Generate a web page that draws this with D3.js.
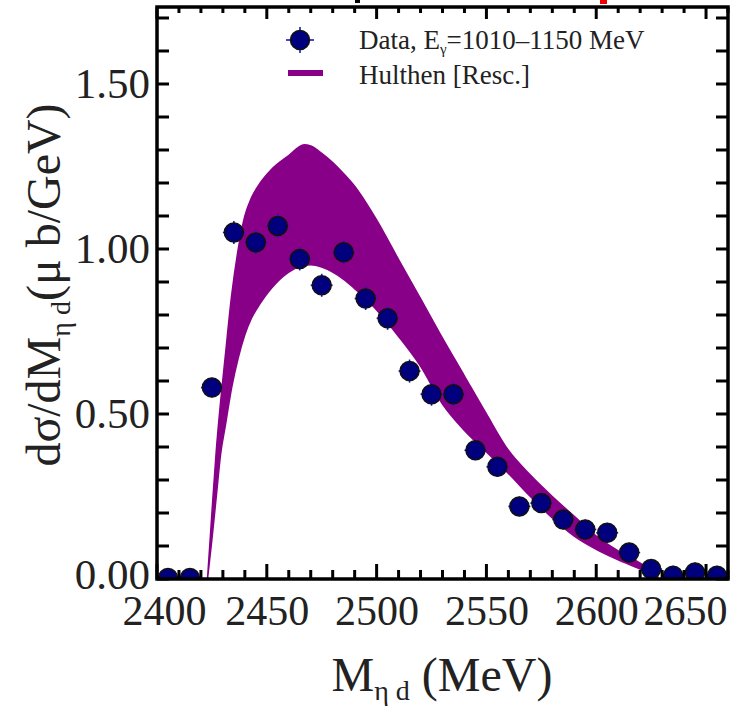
<!DOCTYPE html>
<html><head><meta charset="utf-8">
<script src="https://cdn.jsdelivr.net/npm/d3@7"></script>
<style>body{margin:0;background:#fff}svg{display:block}text{font-family:"Liberation Serif","Times New Roman",serif}</style>
</head><body>
<svg id="c" width="737" height="708"></svg>
<script>
const dataX = [2405,2415,2425,2435,2445,2455,2465,2475,2485,2495,2505,2515,2525,2535,2545,2555,2565,2575,2585,2595,2605,2615,2625,2635,2645,2655];
const dataY = [0.003,0.003,0.58,1.05,1.02,1.07,0.97,0.89,0.99,0.85,0.79,0.63,0.56,0.56,0.39,0.34,0.22,0.23,0.18,0.15,0.14,0.08,0.03,0.01,0.02,0.01];
const dataErr = [0.03,0.03,0.03,0.035,0.035,0.035,0.035,0.035,0.035,0.035,0.035,0.035,0.035,0.035,0.03,0.03,0.03,0.03,0.03,0.03,0.03,0.03,0.03,0.03,0.03,0.03];
const binHalf = 5;
const bandX = [2423,2425,2427,2429,2431,2434,2437,2440,2443,2447,2452,2460,2467,2470,2475,2480,2485,2490,2495,2500,2510,2520,2530,2540,2550,2560,2570,2580,2590,2600,2610,2620,2628];
const bandLow = [0,0.12,0.25,0.38,0.46,0.58,0.67,0.74,0.79,0.835,0.88,0.93,0.95,0.952,0.945,0.93,0.908,0.88,0.85,0.815,0.735,0.645,0.53,0.45,0.385,0.32,0.25,0.185,0.13,0.09,0.058,0.03,0.004];
const bandHigh = [0,0.2,0.39,0.54,0.67,0.86,1.0,1.1,1.155,1.2,1.24,1.283,1.316,1.312,1.29,1.262,1.228,1.19,1.142,1.088,0.968,0.85,0.73,0.615,0.5,0.39,0.315,0.25,0.19,0.13,0.085,0.048,0.012];
const xTicks = [2400,2450,2500,2550,2600,2650];
const yTicks = [0,0.5,1.0,1.5];

const L=157,R=728,T=7,B=579;
const FONT="Liberation Serif";
const svg=d3.select("#c");
const x=d3.scaleLinear().domain([2400,2660]).range([L,R]);
const y=d3.scaleLinear().domain([0,1.7333]).range([B,T]);

svg.append("defs").append("clipPath").attr("id","clip").append("rect")
  .attr("x",L).attr("y",T).attr("width",R-L).attr("height",B-T);
const plot=svg.append("g").attr("clip-path","url(#clip)");

const band=bandX.map((v,i)=>({x:v,lo:bandLow[i],hi:bandHigh[i]}));
plot.append("path").datum(band)
  .attr("d",d3.area().x(d=>x(d.x)).y0(d=>y(d.lo)).y1(d=>y(d.hi)).curve(d3.curveMonotoneX))
  .attr("fill","#880088").attr("stroke","#880088").attr("stroke-width",1.5);

const pts=dataX.map((v,i)=>({x:v,y:dataY[i],e:dataErr[i]}));
const pg=plot.selectAll("g.pt").data(pts).join("g").attr("class","pt");
pg.append("line").attr("x1",d=>x(d.x-binHalf)).attr("x2",d=>x(d.x+binHalf)).attr("y1",d=>y(d.y)).attr("y2",d=>y(d.y))
  .attr("stroke","#1a1ac8").attr("stroke-width",1.6);
pg.append("line").attr("x1",d=>x(d.x)).attr("x2",d=>x(d.x)).attr("y1",d=>y(d.y-d.e)).attr("y2",d=>y(d.y+d.e))
  .attr("stroke","#1a1ac8").attr("stroke-width",1.6);
pg.append("circle").attr("cx",d=>x(d.x)).attr("cy",d=>y(d.y)).attr("r",9.5)
  .attr("fill","#00007f").attr("stroke","#111").attr("stroke-width",1.5);

// ticks inside on all four sides
const minorX=d3.range(2400,2661,10);
const minorY=d3.range(0,1.71,0.1);
const ax=svg.append("g").attr("stroke","#000");
minorX.forEach(v=>{
  const major = v%50===0;
  ax.append("line").attr("x1",x(v)).attr("x2",x(v)).attr("y1",B).attr("y2",B-(major?15:9)).attr("stroke-width",3);
  ax.append("line").attr("x1",x(v)).attr("x2",x(v)).attr("y1",T).attr("y2",T+(major?12:6)).attr("stroke-width",3);
});
minorY.forEach(v=>{
  ax.append("line").attr("x1",L).attr("x2",L+12).attr("y1",y(v)).attr("y2",y(v)).attr("stroke-width",3);
  ax.append("line").attr("x1",R).attr("x2",R-12).attr("y1",y(v)).attr("y2",y(v)).attr("stroke-width",3);
});
svg.append("rect").attr("x",L).attr("y",T).attr("width",R-L).attr("height",B-T)
  .attr("fill","none").attr("stroke","#000").attr("stroke-width",3.5);

// tick labels via d3 axes
const xa=svg.append("g").attr("transform",`translate(0,${B})`)
  .call(d3.axisBottom(x).tickValues(xTicks).tickSize(0).tickPadding(16).tickFormat(d3.format("d")));
xa.select(".domain").remove();
xa.selectAll("text").attr("font-size",42).attr("fill","#222").attr("font-family",FONT)
  .attr("dy","0.72em")
  .attr("dx",d=>d===2650?-21:(d===2400?7:0));
const ya=svg.append("g").attr("transform",`translate(${L},0)`)
  .call(d3.axisLeft(y).tickValues(yTicks).tickSize(0).tickPadding(7).tickFormat(d3.format(".2f")));
ya.select(".domain").remove();
ya.selectAll("text").attr("font-size",43).attr("fill","#222").attr("font-family",FONT)
  .attr("dy",d=>d===0?"0.22em":"0.32em");

// axis titles
const xt=svg.append("text").attr("x",442).attr("y",691).attr("text-anchor","middle").attr("font-size",48).attr("fill","#222").attr("font-family",FONT);
xt.append("tspan").text("M");
xt.append("tspan").text("η d").attr("font-size",28).attr("dy",9);
xt.append("tspan").text(" (MeV)").attr("dy",-9);

const yt=svg.append("text").attr("transform","translate(60,285) rotate(-90)").attr("text-anchor","middle").attr("font-size",48).attr("fill","#222").attr("font-family",FONT);
yt.append("tspan").text("dσ/dM");
yt.append("tspan").text("η d").attr("font-size",28).attr("dy",10);
yt.append("tspan").text("(μ b/GeV)").attr("dy",-10);

// legend
const lg=svg.append("g");
lg.append("line").attr("x1",286).attr("x2",314).attr("y1",40).attr("y2",40).attr("stroke","#1a1ac8").attr("stroke-width",1.6);
lg.append("line").attr("x1",300).attr("x2",300).attr("y1",27).attr("y2",53).attr("stroke","#1a1ac8").attr("stroke-width",1.6);
lg.append("circle").attr("cx",300).attr("cy",40).attr("r",9.5).attr("fill","#00007f").attr("stroke","#111").attr("stroke-width",1.5);
const t1=lg.append("text").attr("x",359).attr("y",49).attr("font-size",27).attr("fill","#222").attr("font-family",FONT);
t1.append("tspan").text("Data, E");
t1.append("tspan").text("γ").attr("font-size",15).attr("dy",5);
t1.append("tspan").text("=1010–1150 MeV").attr("dy",-5);
lg.append("line").attr("x1",288).attr("x2",323).attr("y1",73).attr("y2",73).attr("stroke","#880088").attr("stroke-width",6);
lg.append("text").attr("x",359).attr("y",84).attr("font-size",27).attr("fill","#222").attr("font-family",FONT).text("Hulthen [Resc.]");

// cut-off title remnants at top edge
svg.append("rect").attr("x",355).attr("y",0).attr("width",5).attr("height",3).attr("fill","#000");
svg.append("rect").attr("x",600).attr("y",0).attr("width",7).attr("height",4).attr("fill","#e00");
</script>
</body></html>
